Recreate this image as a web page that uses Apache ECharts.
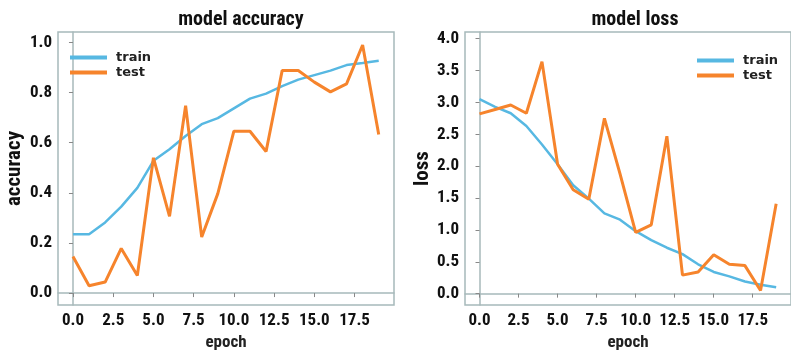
<!DOCTYPE html>
<html>
<head>
<meta charset="utf-8">
<script src="https://cdn.jsdelivr.net/npm/echarts@6/dist/echarts.min.js"></script>
<style>html,body{margin:0;padding:0;background:#fff}#c{width:791px;height:356px}</style>
</head>
<body>
<div id="c"></div>
<script>
const epochs = [0,1,2,3,4,5,6,7,8,9,10,11,12,13,14,15,16,17,18,19];
const accTrain = [0.235,0.235,0.282,0.345,0.42,0.528,0.574,0.627,0.674,0.698,0.737,0.776,0.796,0.826,0.852,0.87,0.888,0.91,0.918,0.927];
const accTest  = [0.146,0.029,0.044,0.178,0.07,0.54,0.306,0.748,0.224,0.397,0.646,0.646,0.565,0.888,0.888,0.842,0.803,0.835,0.99,0.633];
const lossTrain = [3.05,2.93,2.83,2.63,2.34,2.03,1.70,1.49,1.26,1.16,0.98,0.84,0.72,0.62,0.46,0.34,0.27,0.19,0.14,0.10];
const lossTest  = [2.82,2.89,2.96,2.83,3.64,2.03,1.63,1.48,2.75,1.88,0.96,1.08,2.47,0.29,0.34,0.61,0.46,0.44,0.05,1.41];
const xTicks = [0,2.5,5,7.5,10,12.5,15,17.5];
const accTicks = [0,0.2,0.4,0.6,0.8,1.0];
const lossTicks = [0,0.5,1,1.5,2,2.5,3,3.5,4];

const FONT = "'Roboto Condensed','Liberation Sans Narrow','DejaVu Sans Condensed','DejaVu Sans',sans-serif";
const W = 'bold condensed';
const FRAME = '#a7b9ba';
const BLUE = '#57b8e2';
const ORANGE = '#f6842c';
const pairs = (ys) => epochs.map((e,i)=>[e, ys[i]]);

function xAxis(gi){
  return {
    type:'value', gridIndex:gi, min:-0.93, max:19.95,
    name:'epoch', nameLocation:'middle', nameGap:23,
    nameTextStyle:{fontFamily:FONT, fontWeight:W, fontSize:17, color:'#222'},
    axisLine:{show:true, lineStyle:{color:FRAME, width:1.5}},
    axisTick:{show:true, length:4, customValues:xTicks, lineStyle:{color:'#888'}},
    axisLabel:{customValues:xTicks, hideOverlap:false, margin:7, formatter:v=>v.toFixed(1), fontFamily:FONT, fontWeight:W, fontSize:17, color:'#111'},
    splitLine:{show:false}
  };
}
function yAxis(gi, min, max, ticks, name, gap){
  return {
    type:'value', gridIndex:gi, min:min, max:max,
    name:name, nameLocation:'middle', nameGap:gap, nameRotate:90,
    nameTextStyle:{fontFamily:FONT, fontWeight:W, fontSize:21, color:'#111'},
    axisLine:{show:true, lineStyle:{color:FRAME, width:1.5}},
    axisTick:{show:true, length:4, customValues:ticks, lineStyle:{color:'#888'}},
    axisLabel:{customValues:ticks, margin:6, formatter:v=>v.toFixed(1), fontFamily:FONT, fontWeight:W, fontSize:17, color:'#111'},
    splitLine:{show:false}
  };
}
function legend(left, top){
  return {
    left:left, top:top, orient:'vertical', padding:0, itemGap:0,
    itemWidth:37, itemHeight:4, icon:'rect',
    data:['train','test'],
    textStyle:{fontFamily:"'DejaVu Sans',sans-serif", fontWeight:'bold', fontSize:13, lineHeight:15, color:'#222', padding:[0,0,0,4]}
  };
}

const chart = echarts.init(document.getElementById('c'), null, {renderer:'canvas'});
chart.setOption({
  animation:false,
  backgroundColor:'#fff',
  title:[
    {text:'model accuracy', left:236, top:5, textAlign:'center', textStyle:{fontFamily:FONT, fontWeight:W, fontSize:20, color:'#111'}},
    {text:'model loss', left:630, top:5, textAlign:'center', textStyle:{fontFamily:FONT, fontWeight:W, fontSize:20, color:'#111'}}
  ],
  legend:[legend(70, 50), legend(697, 53)],
  grid:[
    {left:58, top:32, width:336, height:278, show:true, borderColor:FRAME, borderWidth:1.5, backgroundColor:'#fff'},
    {left:465, top:32, width:336, height:278, show:true, borderColor:FRAME, borderWidth:1.5, backgroundColor:'#fff'}
  ],
  xAxis:[xAxis(0), xAxis(1)],
  yAxis:[
    yAxis(0, -0.048, 1.042, accTicks, 'accuracy', 33),
    yAxis(1, -0.18, 4.105, lossTicks, 'loss', 25)
  ],
  series:[
    {name:'train', type:'line', xAxisIndex:0, yAxisIndex:0, data:pairs(accTrain), symbol:'none', color:BLUE, lineStyle:{width:2.5, color:BLUE}},
    {name:'test', type:'line', xAxisIndex:0, yAxisIndex:0, data:pairs(accTest), symbol:'none', color:ORANGE, lineStyle:{width:3, color:ORANGE}},
    {name:'train', type:'line', xAxisIndex:1, yAxisIndex:1, data:pairs(lossTrain), symbol:'none', color:BLUE, lineStyle:{width:2.5, color:BLUE}},
    {name:'test', type:'line', xAxisIndex:1, yAxisIndex:1, data:pairs(lossTest), symbol:'none', color:ORANGE, lineStyle:{width:3, color:ORANGE}}
  ]
});
</script>
</body>
</html>
